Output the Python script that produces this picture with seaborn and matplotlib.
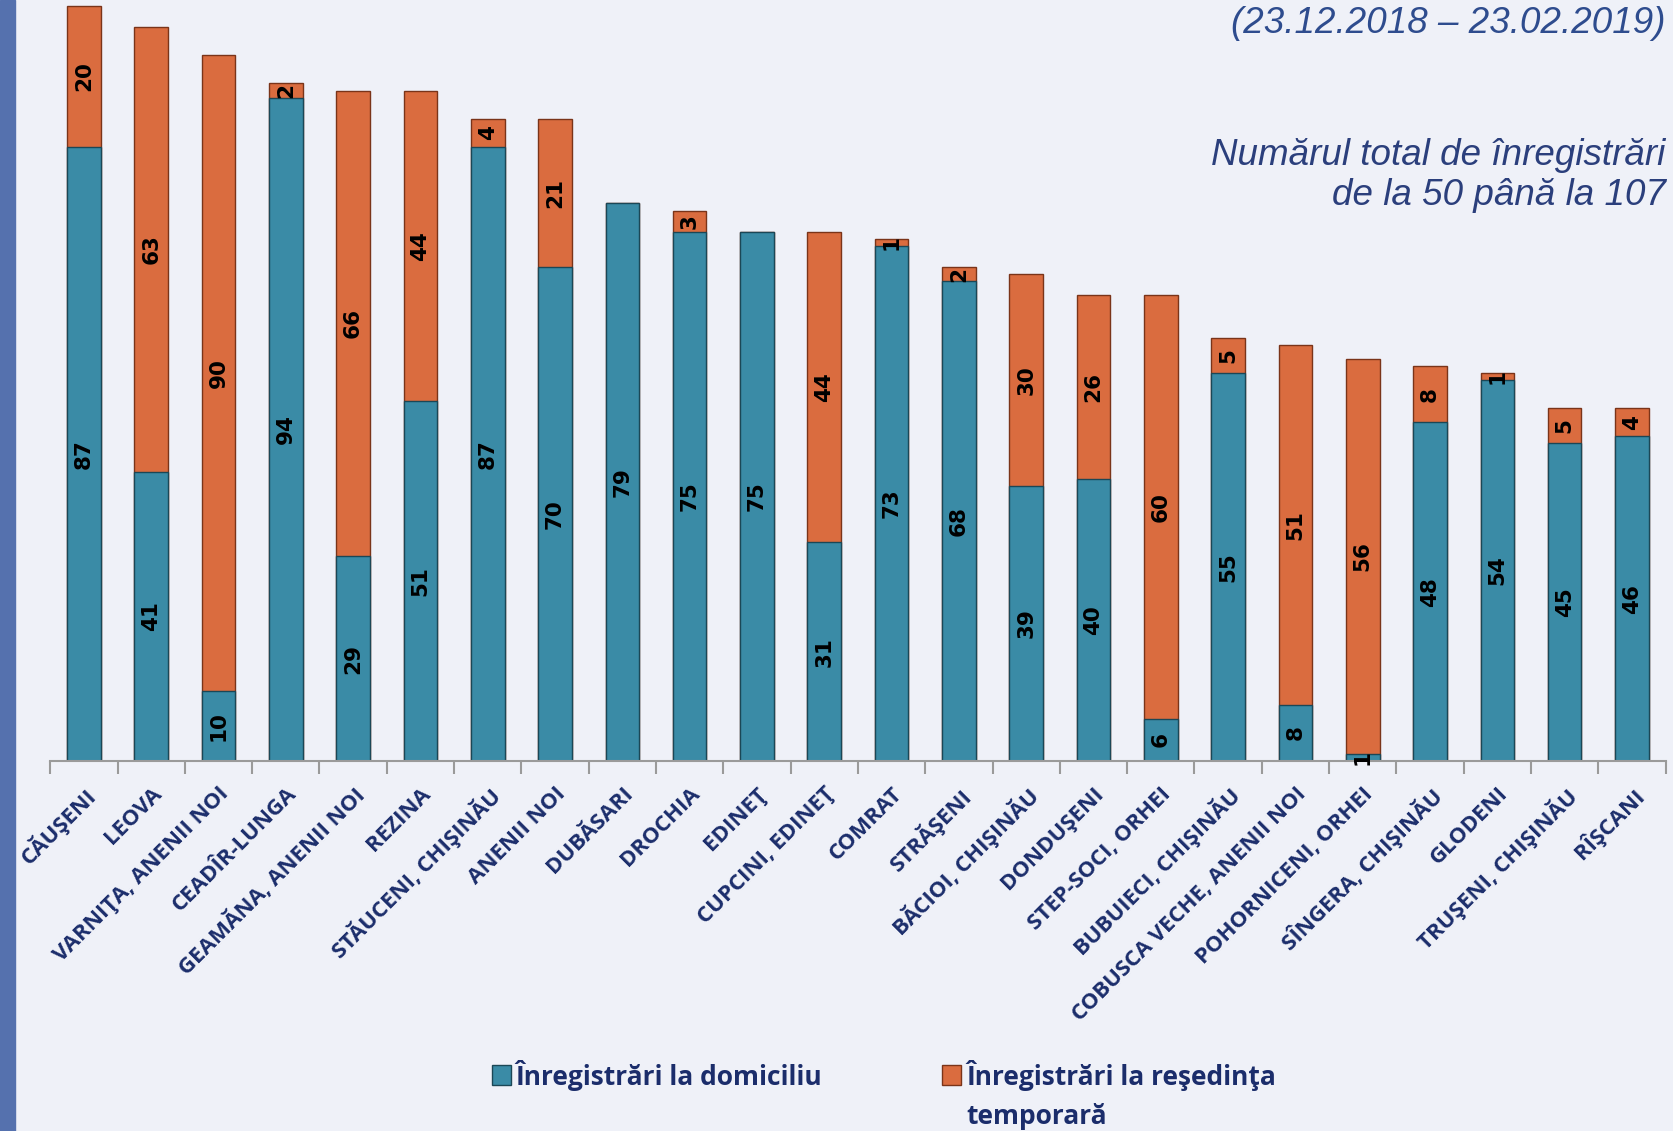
import seaborn as sns
import matplotlib.pyplot as plt
import pandas as pd
import numpy as np

localitati = ["CĂUŞENI", "LEOVA", "VARNIŢA, ANENII NOI", "CEADÎR-LUNGA",
              "GEAMĂNA, ANENII NOI", "REZINA", "STĂUCENI, CHIŞINĂU", "ANENII NOI",
              "DUBĂSARI", "DROCHIA", "EDINEŢ", "CUPCINI, EDINEŢ", "COMRAT",
              "STRĂŞENI", "BĂCIOI, CHIŞINĂU", "DONDUŞENI", "STEP-SOCI, ORHEI",
              "BUBUIECI, CHIŞINĂU", "COBUSCA VECHE, ANENII NOI", "POHORNICENI, ORHEI",
              "SÎNGERA, CHIŞINĂU", "GLODENI", "TRUŞENI, CHIŞINĂU", "RÎŞCANI"]
domiciliu = [87, 41, 10, 94, 29, 51, 87, 70, 79, 75, 75, 31, 73, 68, 39, 40, 6, 55, 8, 1, 48, 54, 45, 46]
resedinta = [20, 63, 90, 2, 66, 44, 4, 21, 0, 3, 0, 44, 1, 2, 30, 26, 60, 5, 51, 56, 8, 1, 5, 4]

TEAL = "#3A8BA6"
ORANGE = "#DA6C3F"
NAVY = "#1B2D6B"


def plot_inregistrari(df):
    fig = plt.figure(figsize=(16.74, 11.31), dpi=100)
    fig.patch.set_facecolor("#EFF1F8")
    # blue strip on the left edge
    fig.patches.append(plt.Rectangle((0, 0), 0.009, 1, transform=fig.transFigure,
                                     color="#5571AE", zorder=0))

    ax = fig.add_axes([0.030, 0.327, 0.965, 0.671])
    ax.set_facecolor("none")

    sns.barplot(data=df, x="loc", y="total", color=ORANGE, width=0.5,
                edgecolor="#7A3419", linewidth=1.0, saturation=1, ax=ax)
    sns.barplot(data=df, x="loc", y="dom", color=TEAL, width=0.5,
                edgecolor="#1B4756", linewidth=1.0, saturation=1, ax=ax)

    for i, row in df.iterrows():
        if row["dom"] > 0:
            ax.text(i, row["dom"] / 2, str(row["dom"]), rotation=90, ha="center",
                    va="center", fontsize=15.5, fontweight="bold", color="black")
        if row["res"] > 0:
            ax.text(i, row["dom"] + row["res"] / 2, str(row["res"]), rotation=90,
                    ha="center", va="center", fontsize=15.5, fontweight="bold", color="black")

    ax.set_ylim(0, 107.5)
    ax.set_xlim(-0.5, len(df) - 0.5)
    ax.set_yticks([])
    ax.set_xlabel("")
    ax.set_ylabel("")
    for s in ["left", "right", "top"]:
        ax.spines[s].set_visible(False)
    ax.spines["bottom"].set_color("#9A9A9A")
    ax.spines["bottom"].set_linewidth(1.5)

    ax.set_xticks(np.arange(-0.5, len(df)), minor=True)
    ax.tick_params(axis="x", which="minor", length=9, color="#9A9A9A", width=1.5)
    ax.tick_params(axis="x", which="major", length=0, pad=16)
    ax.set_xticks(range(len(df)))
    ax.set_xticklabels(df["loc"], rotation=45, ha="right", rotation_mode="anchor",
                       fontsize=16, fontweight="bold", color=NAVY, family="Open Sans")

    fig.text(0.995, 0.979, "(23.12.2018 – 23.02.2019)", ha="right", va="center",
             fontsize=26.5, style="italic", color="#2E4C8E", family="Liberation Sans")
    fig.text(0.995, 0.845, "Numărul total de înregistrări\nde la 50 până la 107", ha="right",
             va="center", fontsize=26.5, style="italic", color="#2B3F7C",
             family="Liberation Sans", linespacing=1.2)

    # legend
    fig.patches.append(plt.Rectangle((0.294, 0.041), 0.011, 0.017, transform=fig.transFigure,
                                     color=TEAL, ec="#1B4756"))
    fig.text(0.308, 0.049, "Înregistrări la domiciliu", ha="left", va="center",
             fontsize=19, fontweight="bold", color=NAVY, family="Open Sans")
    fig.patches.append(plt.Rectangle((0.563, 0.041), 0.011, 0.017, transform=fig.transFigure,
                                     color=ORANGE, ec="#7A3419"))
    fig.text(0.577, 0.049, "Înregistrări la reşedinţa", ha="left", va="center",
             fontsize=19, fontweight="bold", color=NAVY, family="Open Sans")
    fig.text(0.577, 0.013, "temporară", ha="left", va="center",
             fontsize=19, fontweight="bold", color=NAVY, family="Open Sans")

    plt.savefig("out.png", dpi=100, facecolor=fig.get_facecolor())


def main():
    df = pd.DataFrame({"loc": localitati, "dom": domiciliu, "res": resedinta})
    df["total"] = df["dom"] + df["res"]
    plot_inregistrari(df)


if __name__ == '__main__':
    main()
